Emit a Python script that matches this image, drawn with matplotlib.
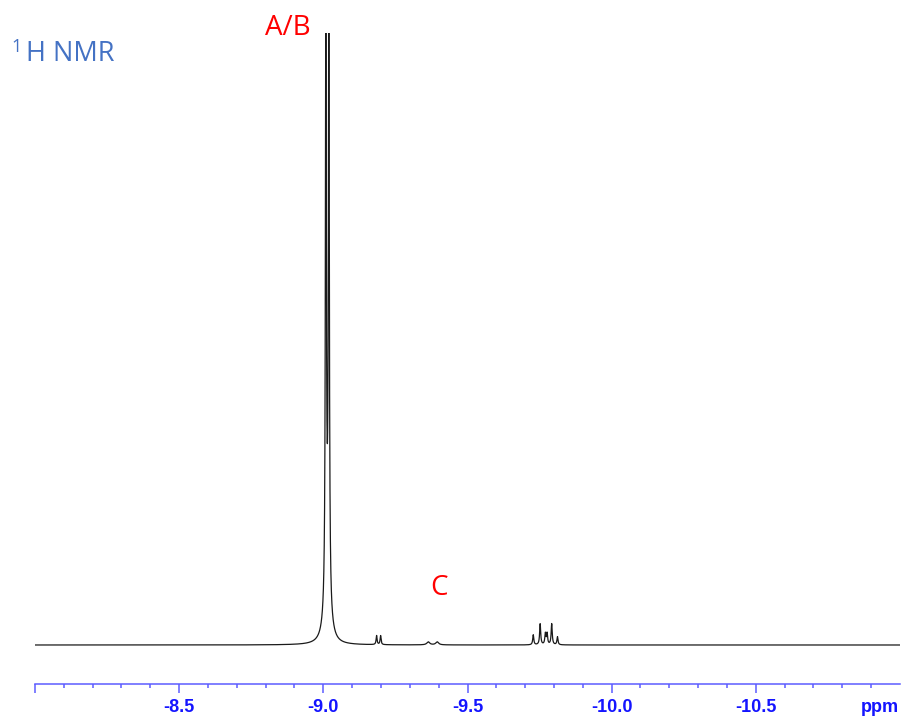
import numpy as np
import matplotlib.pyplot as plt

# peak list (ppm, height in px above baseline, half width in ppm)
peak_ppm = [-9.0087, -9.0191, -9.0139,
            -9.1847, -9.1986,
            -9.364, -9.395,
            -9.728, -9.752, -9.770, -9.776, -9.792, -9.812]
peak_height = [600, 600, 60,
               9, 9,
               3, 3,
               10, 21, 11, 11, 21, 8]
peak_width = [0.0019, 0.0019, 0.0104,
              0.002, 0.002,
              0.006, 0.006,
              0.0022, 0.0022, 0.0022, 0.0022, 0.0022, 0.0022]

major_ticks = [-8.0, -8.5, -9.0, -9.5, -10.0, -10.5]
major_labels = ["", "-8.5", "-9.0", "-9.5", "-10.0", "-10.5"]

# build the spectrum trace from the peak list (Lorentzian lines)
ppm = np.linspace(-8.0, -11.0, 30001)
intensity = np.zeros_like(ppm)
for p, h, w in zip(peak_ppm, peak_height, peak_width):
    intensity += h * w**2 / ((ppm - p)**2 + w**2)

W, H = 901, 720
fig = plt.figure(figsize=(W / 100, H / 100), dpi=100)
ax = fig.add_axes([35 / W, 36 / H, 865 / W, 651 / H])

ax.plot(ppm, intensity, color="#1a1a1a", lw=0.9)
ax.set_xlim(-8.0, -11.0)
ax.set_ylim(-39, 612)

# axis styling: only the blue bottom axis
for side in ["top", "left", "right"]:
    ax.spines[side].set_visible(False)
axis_blue = "#5c5cff"
ax.spines["bottom"].set_color(axis_blue)
ax.spines["bottom"].set_linewidth(1.1)
ax.set_yticks([])
ax.set_xticks(major_ticks)
ax.set_xticklabels(major_labels)
ax.set_xticks(np.arange(-8.1, -10.95, -0.1), minor=True)
ax.tick_params(axis="x", which="major", direction="out", length=6.7, width=1.1,
               color=axis_blue, pad=4, labelcolor="#1414ff", labelsize=13)
ax.tick_params(axis="x", which="minor", direction="out", length=3.1, width=1.1,
               color=axis_blue)
for lbl in ax.get_xticklabels():
    lbl.set_fontweight("bold")
    lbl.set_fontfamily("Liberation Sans")

fig.text(880 / W, 1 - 707 / H, "ppm", color="#1414ff", fontsize=13,
         fontweight="bold", family="Liberation Sans", ha="center", va="center")

# annotations
fig.text(288 / W, 1 - 28 / H, "A/B", color="red", fontsize=20,
         family="Open Sans", ha="center", va="center")
fig.text(439.5 / W, 1 - 588 / H, "C", color="red", fontsize=20,
         family="Open Sans", ha="center", va="center")
fig.text(11 / W, 1 - 47 / H, "1", color="#4472c4", fontsize=13,
         family="Open Sans", ha="left", va="center")
fig.text(26 / W, 1 - 54 / H, "H NMR", color="#4472c4", fontsize=19.5,
         family="Open Sans", ha="left", va="center")

fig.savefig("out.png", dpi=100)
